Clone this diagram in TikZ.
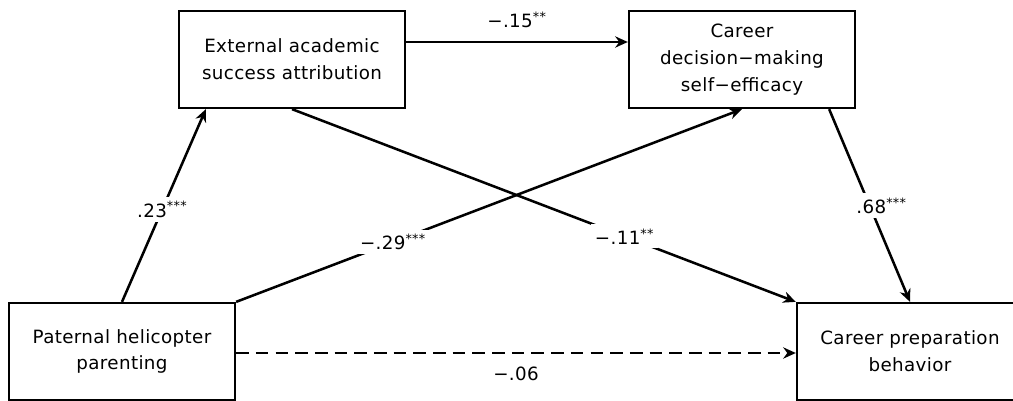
\documentclass[tikz,border=0pt]{standalone}
\usepackage{fontspec}
\setmainfont{DejaVu Sans}[LetterSpace=2]
\usepackage{tikz}
\usetikzlibrary{arrows.meta, positioning}

\begin{document}
\begin{tikzpicture}[x=0.025cm, y=-0.025cm,
    font=\fontsize{13}{19}\selectfont,
    var/.style={draw, line width=1.6pt, minimum width=5.65cm, minimum height=2.425cm, align=center, inner sep=2pt},
    path/.style={draw, line width=1.8pt, ->, >={Stealth[length=9pt, width=8pt]}},
    coef/.style={fill=white, inner sep=3pt}
]
    \useasboundingbox (0,0) rectangle (1013,401);

    % Variables
    \node[var] (ext) at (292,59.5) {External academic\\success attribution};
    \node[var] (cdm) at (742,59.5) {Career\\decision−making\\self−efficacy};
    \node[var] (php) at (122,351.5) {Paternal helicopter\\parenting};
    \node[var] (cpb) at (910,351.5) {Career preparation\\behavior};

    % Paths
    \draw[path] (ext.east |- 0,42) -- node[above=0.2cm] {−.15\textsuperscript{**}} (cdm.west |- 0,42);
    \draw[path] (php.north) -- node[coef, pos=0.48] {.23\textsuperscript{***}} ([xshift=0.7cm]ext.south west);
    \draw[path] (php.north east) -- node[coef, pos=0.31] {−.29\textsuperscript{***}} (cdm.south);
    \draw[path] (ext.south) -- node[coef, pos=0.66] {−.11\textsuperscript{**}} (cpb.north west);
    \draw[path] ([xshift=-0.675cm]cdm.south east) -- node[coef, pos=0.5, xshift=0.3cm] {.68\textsuperscript{***}} (cpb.north);
    \draw[path, dash pattern=on 9pt off 5pt] (php.east |- 0,353) -- node[below=0.2cm] {−.06} (cpb.west |- 0,353);

\end{tikzpicture}
\end{document}
